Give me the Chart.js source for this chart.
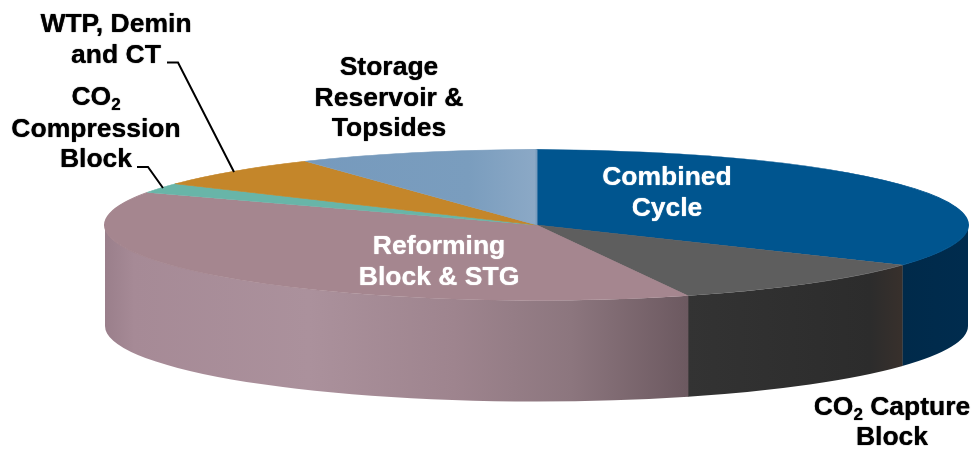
<!DOCTYPE html>
<html>
<head>
<meta charset="utf-8">
<style>html,body{margin:0;padding:0;background:#fff}canvas{display:block}</style>
<script src="https://cdn.jsdelivr.net/npm/chart.js@4"></script>
</head>
<body>
<canvas id="c" width="974" height="450"></canvas>
<script>
const categories = ["Combined Cycle","CO2 Capture Block","Reforming Block & STG","CO2 Compression Block","WTP, Demin and CT","Storage Reservoir & Topsides"];
const shares = [33.9,10.4,37.8,2.1,6.8,9.0];
const topColors = ["#00558F","#5E5E5E","#A5868F","#68B5A8","#C4862A","#7A9DBE"];
const wallStops = [
  [[0,"#002A4A"],[1,"#002C4E"]],
  [[0,"#333333"],[0.85,"#2C2C2C"],[1,"#38302C"]],
  [[0,"#9A7F8B"],[0.05,"#A68A96"],[0.35,"#AB919C"],[0.6,"#9E848E"],[0.8,"#8C767E"],[1,"#6C5960"]],
  [[0,"#4F8A80"],[1,"#4F8A80"]],
  [[0,"#96661F"],[1,"#96661F"]],
  [[0,"#5D7891"],[1,"#5D7891"]]
];
const labels = [
  {lines:[[["WTP, Demin"]],[["and CT"]]], x:116, y:[32,63], color:"#000"},
  {lines:[[["Storage"]],[["Reservoir &"]],[["Topsides"]]], x:389, y:[75,106,136], color:"#000"},
  {lines:[[["CO"],["2",1]],[["Compression"]],[["Block"]]], x:96, y:[105,137,167], color:"#000"},
  {lines:[[["Combined"]],[["Cycle"]]], x:667, y:[185,216], color:"#fff"},
  {lines:[[["Reforming"]],[["Block & STG"]]], x:439, y:[254,285], color:"#fff"},
  {lines:[[["CO"],["2",1],[" Capture"]],[["Block"]]], x:892, y:[415,445], color:"#000"}
];
const leaders = [
  [[167,62.5],[178,62.5],[234,172]],
  [[137,167],[148,167],[163,188]]
];

const disc = {cx:536.5, cy:225, rx:431.5, ry:75.5, depth:101};
const FONT = 'bold 26.5px "Liberation Sans", Arial, sans-serif';
const SUB = 'bold 17px "Liberation Sans", Arial, sans-serif';

function storageFill(c){
  if (c.dataIndex !== 5 || !c.chart.chartArea) return topColors[c.dataIndex];
  const a = c.chart.chartArea, px = (a.left+a.right)/2, R = Math.min(a.width,a.height)/2;
  const toX = X => px + (X-disc.cx)*R/disc.rx;
  const g = c.chart.ctx.createLinearGradient(toX(310),0,toX(537),0);
  g.addColorStop(0,"#769ABD");
  g.addColorStop(0.7,"#7A9DBE");
  g.addColorStop(1,"#8CA9C6");
  return g;
}

const pie3d = {
  id:'pie3d',
  beforeDatasetsDraw(chart){
    const ctx = chart.ctx, arcs = chart.getDatasetMeta(0).data;
    const {cx,cy,rx,ry,depth} = disc;
    // side wall, from the library's arc angles; a small overlap hides the seams
    arcs.forEach((arc,i)=>{
      const a = Math.max(arc.startAngle,0), b = Math.min(arc.endAngle,Math.PI);
      if (b <= a) return;
      const xa = cx+rx*Math.cos(a), xb = cx+rx*Math.cos(b);
      const g = ctx.createLinearGradient(xb,0,xa,0);
      wallStops[i].forEach(s=>g.addColorStop(s[0],s[1]));
      const a2 = Math.max(a-0.0015,0);
      ctx.beginPath();
      ctx.ellipse(cx,cy,rx,ry,0,a2,b,false);
      ctx.lineTo(cx+rx*Math.cos(b),cy+ry*Math.sin(b)+depth);
      ctx.ellipse(cx,cy+depth,rx,ry,0,b,a2,true);
      ctx.closePath();
      ctx.fillStyle = g;
      ctx.fill();
    });
    const p = arcs[0], R = p.outerRadius;
    ctx.save();
    ctx.translate(cx,cy);
    ctx.scale(rx/R,ry/R);
    ctx.translate(-p.x,-p.y);
  },
  afterDatasetsDraw(chart){
    const ctx = chart.ctx;
    ctx.restore();
    ctx.save();
    ctx.strokeStyle = "#000";
    ctx.lineWidth = 2;
    leaders.forEach(l=>{
      ctx.beginPath();
      l.forEach((pt,i)=> i ? ctx.lineTo(pt[0],pt[1]) : ctx.moveTo(pt[0],pt[1]));
      ctx.stroke();
    });
    ctx.textBaseline = "alphabetic";
    ctx.textAlign = "left";
    labels.forEach(lb=>{
      ctx.fillStyle = lb.color;
      ctx.shadowColor = lb.color;
      ctx.shadowBlur = 1;
      lb.lines.forEach((runs,n)=>{
        let w = 0;
        runs.forEach(r=>{ ctx.font = r[1]?SUB:FONT; w += ctx.measureText(r[0]).width; });
        let x = lb.x - w/2;
        runs.forEach(r=>{
          ctx.font = r[1]?SUB:FONT;
          ctx.fillText(r[0],x,lb.y[n]+(r[1]?5:0));
          x += ctx.measureText(r[0]).width;
        });
      });
    });
    ctx.restore();
  }
};

new Chart(document.getElementById('c'),{
  type:'pie',
  data:{labels:categories,datasets:[{
    data:shares,
    backgroundColor:storageFill,
    borderColor:topColors,
    borderWidth:1,
    clip:false
  }]},
  options:{
    responsive:false,
    animation:false,
    events:[],
    plugins:{legend:{display:false},tooltip:{enabled:false}}
  },
  plugins:[pie3d]
});
</script>
</body>
</html>
